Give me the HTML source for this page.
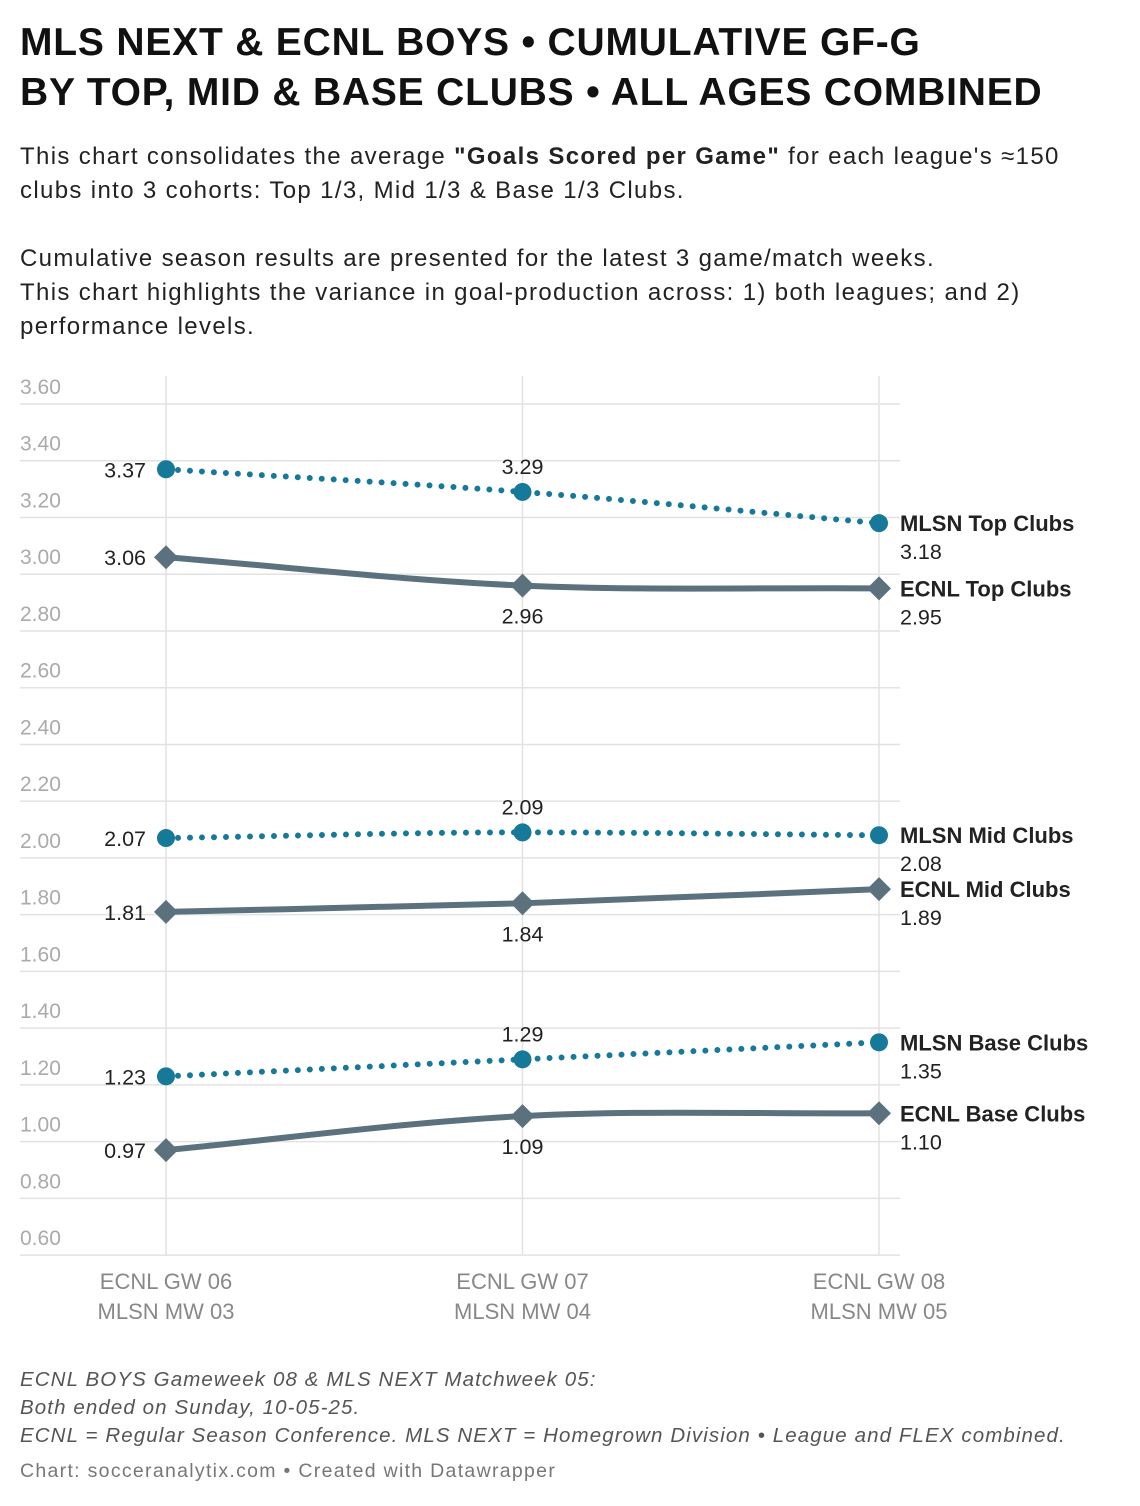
<!DOCTYPE html>
<html><head><meta charset="utf-8">
<style>
body{margin:0;background:#fff;font-family:"Liberation Sans",sans-serif;color:#222;}
#wrap{position:relative;width:1140px;height:1506px;overflow:hidden;}
h1{position:absolute;left:20px;top:18px;margin:0;font-size:39px;line-height:50px;font-weight:bold;color:#111;letter-spacing:0.8px;}
.desc{position:absolute;left:20px;top:140px;font-size:24px;line-height:34px;color:#222;width:1120px;letter-spacing:1.35px;}
.notes{position:absolute;left:20px;top:1366px;font-size:20.5px;line-height:28px;font-style:italic;color:#555;letter-spacing:1.1px;}
.credit{position:absolute;left:20px;top:1460px;font-size:19.5px;color:#777;letter-spacing:1.3px;}
svg{position:absolute;left:0;top:0;}
</style></head><body>
<div id="wrap">
<h1>MLS NEXT &amp; ECNL BOYS • CUMULATIVE GF-G<br>BY TOP, MID &amp; BASE CLUBS • ALL AGES COMBINED</h1>
<div class="desc">This chart consolidates the average <b>"Goals Scored per Game"</b> for each league's ≈150<br>clubs into 3 cohorts: Top 1/3, Mid 1/3 &amp; Base 1/3 Clubs.<br><br>Cumulative season results are presented for the latest 3 game/match weeks.<br>This chart highlights the variance in goal-production across: 1) both leagues; and 2)<br>performance levels.</div>
<svg id="chart" width="1140" height="1506"></svg>
<div class="notes">ECNL BOYS Gameweek 08 &amp; MLS NEXT Matchweek 05:<br>Both ended on Sunday, 10-05-25.<br>ECNL = Regular Season Conference. MLS NEXT = Homegrown Division • League and FLEX combined.</div>
<div class="credit">Chart: socceranalytix.com • Created with Datawrapper</div>
</div>
<script>
const categories1 = ["ECNL GW 06","ECNL GW 07","ECNL GW 08"];
const categories2 = ["MLSN MW 03","MLSN MW 04","MLSN MW 05"];
const yTicks = [0.6,0.8,1.0,1.2,1.4,1.6,1.8,2.0,2.2,2.4,2.6,2.8,3.0,3.2,3.4,3.6];
const seriesNames = ["MLSN Top Clubs","ECNL Top Clubs","MLSN Mid Clubs","ECNL Mid Clubs","MLSN Base Clubs","ECNL Base Clubs"];
const mlsnTop = [3.37,3.29,3.18];
const ecnlTop = [3.06,2.96,2.95];
const mlsnMid = [2.07,2.09,2.08];
const ecnlMid = [1.81,1.84,1.89];
const mlsnBase = [1.23,1.29,1.35];
const ecnlBase = [0.97,1.09,1.10];
const seriesValues = [mlsnTop,ecnlTop,mlsnMid,ecnlMid,mlsnBase,ecnlBase];
const midLabelPos = ["above","below","above","below","above","below"];

const svg = document.getElementById('chart');
const NS = "http://www.w3.org/2000/svg";
const y = v => 404 + (3.6 - v) * 283.7;
const x = i => 166 + i * 356.5;
function el(tag, attrs, parent){const e=document.createElementNS(NS,tag);for(const k in attrs)e.setAttribute(k,attrs[k]);(parent||svg).appendChild(e);return e;}
const fmt = v => v.toFixed(2);

yTicks.forEach(t=>{
  const g = el('line',{x1:20,x2:900,y1:y(t),y2:y(t),stroke:'#e2e2e2','stroke-width':1.5});
  
  
  const tx = el('text',{x:20,y:y(t)-10,'font-size':21,fill:'#aaa'});
  tx.textContent = fmt(t);
  
  
});
categories1.forEach((c,i)=>{
  const g = el('line',{x1:x(i),x2:x(i),y1:376,y2:y(0.6),stroke:'#e2e2e2','stroke-width':1.5});
  
  
  const t1 = el('text',{x:x(i),y:1289,'text-anchor':'middle','font-size':22,fill:'#888'});
  t1.textContent = c;
  
  
  const t2 = el('text',{x:x(i),y:1319,'text-anchor':'middle','font-size':22,fill:'#888'});
  t2.textContent = categories2[i];
  
  
});

function monotonePath(pts){
  const n=pts.length, d=[], m=[];
  for(let i=0;i<n-1;i++) d.push((pts[i+1][1]-pts[i][1])/(pts[i+1][0]-pts[i][0]));
  m[0]=d[0]; m[n-1]=d[n-2];
  for(let i=1;i<n-1;i++) m[i]=(d[i-1]*d[i]<=0)?0:(d[i-1]+d[i])/2;
  let p='M'+pts[0][0]+','+pts[0][1];
  for(let i=0;i<n-1;i++){
    const h=(pts[i+1][0]-pts[i][0])/3;
    p+=' C'+(pts[i][0]+h)+','+(pts[i][1]+m[i]*h)+' '+(pts[i+1][0]-h)+','+(pts[i+1][1]-m[i+1]*h)+' '+pts[i+1][0]+','+pts[i+1][1];
  }
  return p;
}

seriesValues.forEach((vals,s)=>{
  const mlsn = s%2===0;
  const col = mlsn ? '#17799a' : '#5b727e';
  const pts = vals.map((v,i)=>[x(i),y(v)]);
  const path = el('path',{d:monotonePath(pts),fill:'none',stroke:col,'stroke-width':6,'stroke-linecap':'round','stroke-dasharray':mlsn?'0 12':'none'});
  
  
  vals.forEach((v,i)=>{
    let mk;
    if(mlsn){ mk = el('circle',{cx:x(i),cy:y(v),r:9,fill:col}); }
    else { const cx=x(i),cy=y(v),r=12; mk = el('polygon',{points:`${cx},${cy-r} ${cx+r},${cy} ${cx},${cy+r} ${cx-r},${cy}`,fill:col}); }
    
    
    if(i===0){
      const t = el('text',{x:x(i)-20,y:y(v)+8,'text-anchor':'end','font-size':21.5,fill:'#222'});
      t.textContent = fmt(v);
      
      
    } else if(i===1){
      const above = midLabelPos[s]==='above';
      const t = el('text',{x:x(i),y:above?y(v)-18:y(v)+38,'text-anchor':'middle','font-size':21.5,fill:'#222'});
      t.textContent = fmt(v);
      
      
    } else {
      const n = el('text',{x:900,y:y(v)+8,'font-size':22,'font-weight':'bold',fill:'#222'});
      n.textContent = seriesNames[s];
      
      
      const t = el('text',{x:900,y:y(v)+36,'font-size':21.5,fill:'#222'});
      t.textContent = fmt(v);
      
      
    }
  });
});
</script>
</body></html>
